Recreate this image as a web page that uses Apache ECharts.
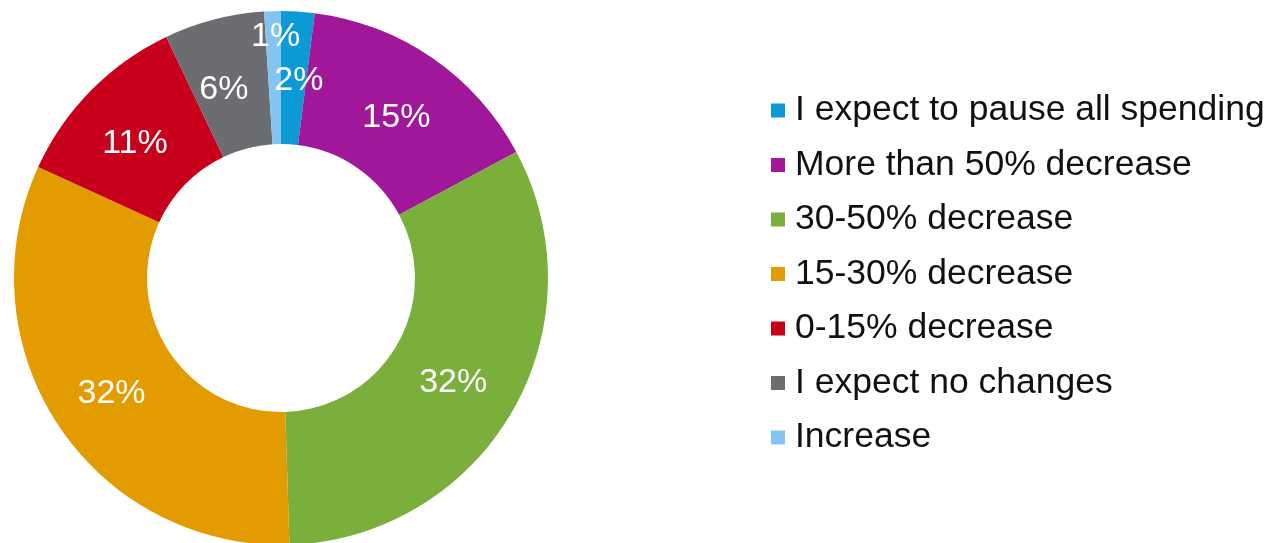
<!DOCTYPE html>
<html>
<head>
<meta charset="utf-8">
<title>Expected spending change</title>
<script src="https://cdn.jsdelivr.net/npm/echarts@6/dist/echarts.min.js"></script>
<style>
  html, body { margin: 0; padding: 0; background: #ffffff; }
  #chart { width: 1272px; height: 543px; }
</style>
</head>
<body>
<div id="chart"></div>
<script>
// Survey answers, in the order the slices run clockwise from 12 o'clock
const categories = [
  'I expect to pause all spending',
  'More than 50% decrease',
  '30-50% decrease',
  '15-30% decrease',
  '0-15% decrease',
  'I expect no changes',
  'Increase'
];
const shares = [2, 15, 32, 32, 11, 6, 1];
const sliceColors = ['#0B9AD6', '#A1179A', '#7BAF3B', '#E39C00', '#C8001C', '#6C6D70', '#84C5F0'];

// small nudges that keep the crowded labels near the top apart
const labelNudge = [
  { dx: 5, dy: 6 },
  { dx: 0, dy: 7 },
  { dx: -4, dy: 3 },
  { dx: 0, dy: 3 },
  { dx: -1, dy: 8 },
  { dx: -6, dy: 9 },
  { dx: 1, dy: -38 }
];

const chart = echarts.init(document.getElementById('chart'), null, { renderer: 'canvas' });

chart.setOption({
  animation: false,
  color: sliceColors,
  legend: {
    orient: 'vertical',
    left: 766,
    top: 87.5,
    itemWidth: 14,
    itemHeight: 14,
    itemGap: 18.5,
    icon: 'rect',
    data: categories,
    textStyle: {
      fontFamily: 'Liberation Sans, Arial, sans-serif',
      fontSize: 35.5,
      lineHeight: 36,
      color: '#111111',
      padding: [0, 0, 0, 5]
    }
  },
  series: [{
    type: 'pie',
    center: [281, 278],
    radius: [134, 267],
    startAngle: 90,
    clockwise: true,
    avoidLabelOverlap: false,
    label: {
      show: true,
      position: 'inside',
      formatter: '{c}%',
      color: '#ffffff',
      fontFamily: 'Liberation Sans, Arial, sans-serif',
      fontSize: 34
    },
    labelLine: { show: false },
    labelLayout: function (params) {
      return labelNudge[params.dataIndex] || {};
    },
    emphasis: { disabled: true },
    data: categories.map(function (name, i) {
      return { name: name, value: shares[i] };
    })
  }]
});
</script>
</body>
</html>
